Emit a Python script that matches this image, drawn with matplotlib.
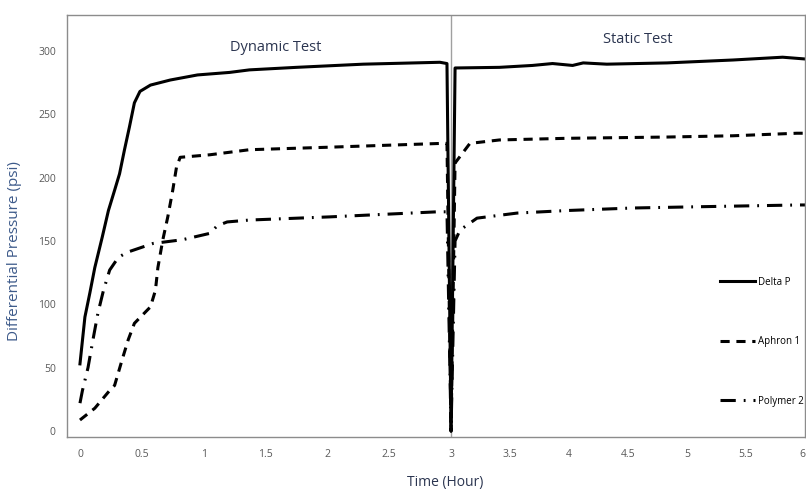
import numpy as np
import matplotlib

matplotlib.use("Agg")
import matplotlib.pyplot as plt

# values (time in hours, pressure in psi)
delta_t = [0.0, 0.04, 0.08, 0.12, 0.18, 0.23, 0.28, 0.32, 0.36, 0.40, 0.44,
           0.485, 0.57, 0.73, 0.95, 1.21, 1.37, 1.75, 2.29, 2.91, 2.967,
           3.0, 3.034, 3.41, 3.69, 3.86, 4.03, 4.12, 4.32, 4.83, 5.39, 5.81, 6.0]
delta_p = [53, 90, 109, 129, 153, 174, 190, 203, 222, 240, 259,
           268, 273, 277, 281, 283, 285, 287, 289.5, 291, 290,
           0, 286.5, 287, 288.5, 290, 288.5, 290.5, 289.5, 290.5, 292.8, 295, 293.6]

aphron_t = [0.0, 0.12, 0.24, 0.28, 0.34, 0.39, 0.44, 0.57, 0.61, 0.63, 0.67,
            0.71, 0.75, 0.78, 0.81, 1.05, 1.21, 1.37, 2.02, 2.93, 2.967,
            3.0, 3.034, 3.16, 3.41, 3.98, 4.83, 5.39, 5.93, 6.0]
aphron_p = [8.7, 18, 32, 36, 56, 72, 85, 98, 111, 129, 151,
            169, 190, 208, 216, 218, 220, 222, 224, 227, 227,
            0, 211.5, 227, 229.7, 231, 232, 233, 235, 235]

polymer_t = [0.0, 0.02, 0.065, 0.105, 0.145, 0.19, 0.24, 0.31, 0.38, 0.59,
             0.83, 1.05, 1.11, 1.19, 1.37, 2.02, 2.89, 2.967,
             3.0, 3.034, 3.076, 3.22, 3.56, 3.98, 4.54, 5.1, 5.95, 6.0]
polymer_p = [22, 32, 50, 72, 93, 111, 127, 137, 141, 148,
             151, 156, 162, 165, 166.5, 169, 173, 173,
             0, 150, 158.6, 168, 172, 174, 176, 177, 178.4, 178.4]

x_ticks = [0, 0.5, 1, 1.5, 2, 2.5, 3, 3.5, 4, 4.5, 5, 5.5, 6]
x_tick_labels = ["0", "0.5", "1", "1.5", "2", "2.5", "3", "3.5", "4", "4.5", "5", "5.5", "6"]
y_ticks = [0, 50, 100, 150, 200, 250, 300]

# the static half of the original axis is drawn a little tighter than the dynamic half
k_static = 118 / 123.7
knots_t = [-1.0, 3.0, 7.0]
knots_u = [-1.0, 3.0, 3.0 + 4 * k_static]


def fwd(t):
    return np.interp(t, knots_t, knots_u)


def inv(u):
    return np.interp(u, knots_u, knots_t)


plt.rcParams["font.family"] = ["Open Sans", "DejaVu Sans"]

fig = plt.figure(figsize=(8.06, 4.92), dpi=100)
ax = fig.add_axes([0.0831, 0.1118, 0.9157, 0.8577])
ax.set_xscale("function", functions=(fwd, inv))

ax.plot(delta_t, delta_p, color="black", linewidth=2.2, label="Delta P")
ax.plot(aphron_t, aphron_p, color="black", linewidth=2.2, dashes=(3, 2.2), label="Aphron 1")
ax.plot(polymer_t, polymer_p, color="black", linewidth=2.2,
        dashes=(5, 2.6, 0.6, 2.6), label="Polymer 2")

ax.axvline(3, color="#a0a0a0", linewidth=1, zorder=0)

ax.set_xlim(-0.105, 6.0)
ax.set_ylim(-4.7, 328.3)
ax.set_xticks(x_ticks)
ax.set_xticklabels(x_tick_labels)
ax.set_yticks(y_ticks)
ax.tick_params(axis="both", length=0, labelsize=7.5, labelcolor="#595959")
ax.tick_params(axis="x", pad=9)
ax.tick_params(axis="y", pad=8)
# the last label sits on the right edge, as in the original
ax.get_xticklabels()[-1].set_horizontalalignment("right")

for sp in ax.spines.values():
    sp.set_color("#8c8c8c")
    sp.set_linewidth(1)

title_color = "#2b3550"
ax.text(1.58, 303, "Dynamic Test", ha="center", va="center", fontsize=10.5, color=title_color)
ax.text(4.58, 309, "Static Test", ha="center", va="center", fontsize=10.5, color=title_color)

ax.set_xlabel("Time (Hour)", fontsize=10, color=title_color)
ax.xaxis.set_label_coords(0.513, -0.09)
ax.set_ylabel("Differential Pressure (psi)", fontsize=11, color="#3d5a8a")
ax.yaxis.set_label_coords(-0.061, 0.44)

ax.legend(loc="center left", bbox_to_anchor=(0.885, 0.226), frameon=False,
          fontsize=7, labelspacing=5.0, handlelength=3.6, handletextpad=0.3,
          borderpad=0, borderaxespad=0)

fig.savefig("out.png", dpi=100)
plt.close(fig)
